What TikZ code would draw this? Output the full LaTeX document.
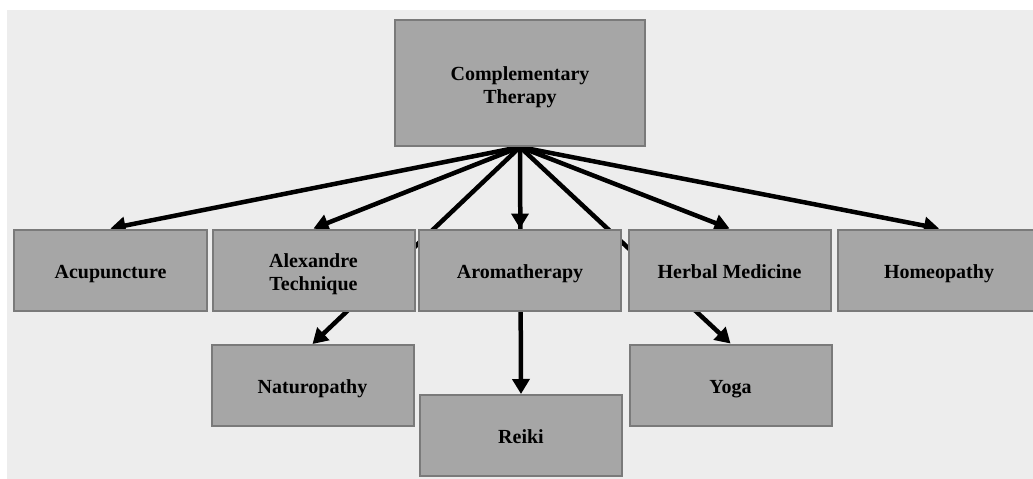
\documentclass[tikz,border=0pt]{standalone}
\usepackage{fontspec}
\setmainfont{Liberation Serif}
\usetikzlibrary{arrows.meta}
\pgfdeclarelayer{back}
\pgfdeclarelayer{links}
\pgfsetlayers{back,links,main}
\definecolor{boxfill}{RGB}{166,166,166}
\definecolor{boxline}{RGB}{122,122,122}
\definecolor{paper}{RGB}{237,237,237}

\begin{document}
\begin{tikzpicture}[x=1pt,y=-1pt,
    box/.style={draw=boxline,fill=boxfill,line width=2pt,align=center,
        font=\fontsize{20}{23}\selectfont\bfseries,inner sep=0pt,
        execute at begin node=\rule[-5pt]{0pt}{26pt}},
    twoline/.style={text height=42pt,text depth=2pt},
    rowbox/.style={box,minimum width=202pt,minimum height=81pt},
    link/.style={line width=4.5pt,-{Triangle[length=15pt,width=17pt]}}]
        \useasboundingbox (0,0) rectangle (1033,479);
        \clip (0,0) rectangle (1033,479);
        \begin{pgfonlayer}{back}
            \fill [paper] (7,10) rectangle (1033,479);
        \end{pgfonlayer}

        \node [box,twoline,minimum width=250pt,minimum height=126pt] (ct) at(520,83) {Complementary\\Therapy};

        \node [rowbox,minimum width=193pt] (acu) at(110.5,270) {Acupuncture};
        \node [rowbox,twoline] (alex) at(313.5,270) {Alexandre\\Technique};
        \node [rowbox] (aroma) at(520,270) {Aromatherapy};
        \node [rowbox] (herb) at(729.5,270) {Herbal Medicine};
        \node [rowbox] (homeo) at(939,270) {Homeopathy};

        \node [rowbox] (natur) at(312.5,385.5) {Naturopathy};
        \node [rowbox] (reiki) at(521,435.5) {Reiki};
        \node [rowbox] (yoga) at(730.5,385) {Yoga};

        \begin{pgfonlayer}{links}
            \foreach \kid in {acu,alex,aroma,herb,homeo,natur,reiki,yoga}
                \draw [link] (ct.south) -- (\kid.north);
        \end{pgfonlayer}
    \end{tikzpicture}
\end{document}
